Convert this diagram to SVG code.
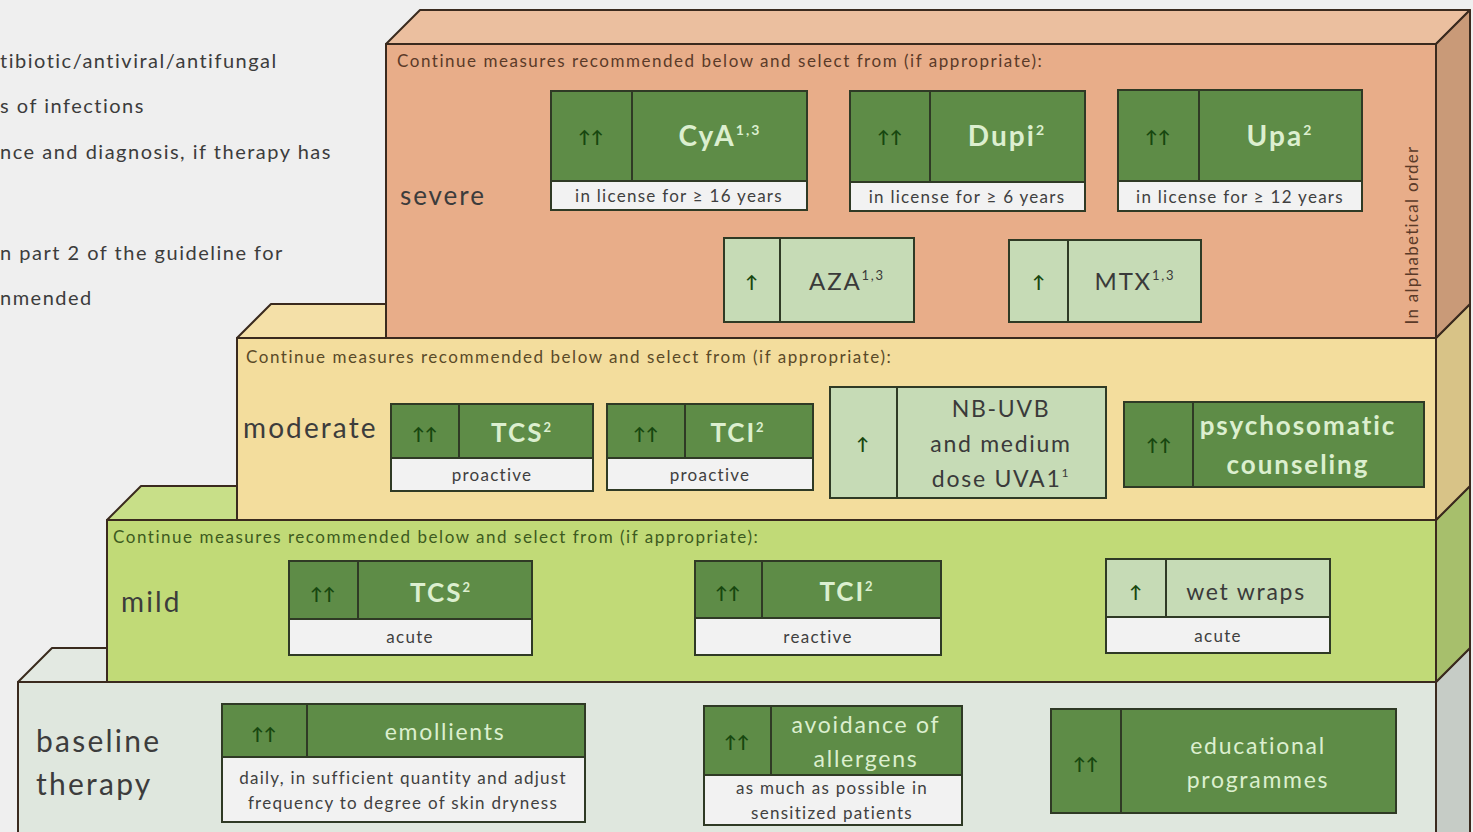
<svg xmlns="http://www.w3.org/2000/svg" width="1473" height="832" viewBox="0 0 1473 832">
<style>
text{font-family:Lato,"Open Sans","Liberation Sans",sans-serif;letter-spacing:0.075em}
.edge{stroke:#3a2a1e;stroke-width:2;stroke-linejoin:round}
.box{stroke:#2f3a25;stroke-width:2}
.dg{fill:#5e8c47}
.lg{fill:#c6dbb6}
.wh{fill:#f2f2f2}
.arr{fill:#17470f;font-size:17px;text-anchor:middle;font-weight:bold;letter-spacing:0}
.t1{fill:#dcefcf;font-weight:bold;text-anchor:middle}
.t2{fill:#dcefcf;text-anchor:middle}
.td{fill:#3a3a3a;text-anchor:middle}
.lab{fill:#404040;font-size:17px;text-anchor:middle}
.hdr{font-size:17px;letter-spacing:0.09em}
.side{fill:#3c3c3c;font-size:20px}
.lvl{fill:#3c3c3c}
</style>
<rect width="1473" height="832" fill="#efefef"/>
<g id="sidetext" class="side">
<text x="0" y="68">tibiotic/antiviral/antifungal</text>
<text x="0" y="113">s of infections</text>
<text x="0" y="159">nce and diagnosis, if therapy has</text>
<text x="0" y="260">n part 2 of the guideline for</text>
<text x="0" y="305">nmended</text>
</g>
<g id="baseline">
<polygon class="edge" points="18,682 52,648 1470,648 1436,682" fill="#e3e9e2"/>
<polygon class="edge" points="1436,682 1470,648 1470,840 1436,840" fill="#c6ccc6"/>
<rect class="edge" x="18" y="682" width="1418" height="160" fill="#dfe7de"/>
<text class="lvl" x="36" y="752" font-size="30">baseline</text>
<text class="lvl" x="36" y="795" font-size="30">therapy</text>
</g>
<g id="mild">
<polygon class="edge" points="107,520 141,486 1470,486 1436,520" fill="#c8df88"/>
<polygon class="edge" points="1436,520 1470,486 1470,648 1436,682" fill="#a7bf6c"/>
<rect class="edge" x="107" y="520" width="1329" height="162" fill="#c1da77"/>
<text class="hdr" x="113" y="543" fill="#3d5a20">Continue measures recommended below and select from (if appropriate):</text>
<text class="lvl" x="121" y="612" font-size="28">mild</text>
</g>
<g id="moderate">
<polygon class="edge" points="237,338 271,304 1470,304 1436,338" fill="#f4e0a8"/>
<polygon class="edge" points="1436,338 1470,304 1470,486 1436,520" fill="#d8c387"/>
<rect class="edge" x="237" y="338" width="1199" height="182" fill="#f3dd9d"/>
<text class="hdr" x="246" y="363" fill="#5a4a28">Continue measures recommended below and select from (if appropriate):</text>
<text class="lvl" x="243" y="438" font-size="28">moderate</text>
</g>
<g id="severe">
<polygon class="edge" points="386,44 420,10 1470,10 1436,44" fill="#ebbf9f"/>
<polygon class="edge" points="1436,44 1470,10 1470,304 1436,338" fill="#c99a78"/>
<rect class="edge" x="386" y="44" width="1050" height="294" fill="#e8ad89"/>
<text class="hdr" x="397" y="67" fill="#5a3a28">Continue measures recommended below and select from (if appropriate):</text>
<text class="lvl" x="400" y="205" font-size="26" fill="#5a4a40">severe</text>
<text x="1418" y="235" font-size="17" fill="#5a3a28" text-anchor="middle" transform="rotate(-90 1418 235)">In alphabetical order</text>
</g>
<g id="cya">
<rect class="box dg" x="551" y="91" width="256" height="90"/>
<line class="box" x1="632" y1="91" x2="632" y2="181"/>
<rect class="box wh" x="551" y="181" width="256" height="29"/>
<text class="arr" x="591" y="143">↑↑</text>
<text class="t1" x="720" y="146" font-size="28" letter-spacing="0.03em">CyA<tspan font-size="14" dy="-11">1,3</tspan></text>
<text class="lab" x="679" y="202">in license for ≥ 16 years</text>
</g>
<g id="dupi">
<rect class="box dg" x="850" y="91" width="235" height="91"/>
<line class="box" x1="930" y1="91" x2="930" y2="182"/>
<rect class="box wh" x="850" y="182" width="235" height="29"/>
<text class="arr" x="890" y="143">↑↑</text>
<text class="t1" x="1007" y="146" font-size="28" letter-spacing="0.03em">Dupi<tspan font-size="14" dy="-11">2</tspan></text>
<text class="lab" x="967" y="203">in license for ≥ 6 years</text>
</g>
<g id="upa">
<rect class="box dg" x="1118" y="90" width="244" height="91"/>
<line class="box" x1="1199" y1="90" x2="1199" y2="181"/>
<rect class="box wh" x="1118" y="181" width="244" height="30"/>
<text class="arr" x="1158" y="143">↑↑</text>
<text class="t1" x="1280" y="146" font-size="28" letter-spacing="0.03em">Upa<tspan font-size="14" dy="-11">2</tspan></text>
<text class="lab" x="1240" y="203">in license for ≥ 12 years</text>
</g>
<g id="aza">
<rect class="box lg" x="724" y="238" width="190" height="84"/>
<line class="box" x1="780" y1="238" x2="780" y2="322"/>
<text class="arr" x="752" y="288">↑</text>
<text class="td" x="847" y="290" font-size="24" letter-spacing="0.03em">AZA<tspan font-size="13" dy="-10">1,3</tspan></text>
</g>
<g id="mtx">
<rect class="box lg" x="1009" y="240" width="192" height="82"/>
<line class="box" x1="1068" y1="240" x2="1068" y2="322"/>
<text class="arr" x="1039" y="288">↑</text>
<text class="td" x="1135" y="290" font-size="24" letter-spacing="0.03em">MTX<tspan font-size="13" dy="-10">1,3</tspan></text>
</g>
<g id="tcs-mod">
<rect class="box dg" x="391" y="404" width="202" height="54"/>
<line class="box" x1="459" y1="404" x2="459" y2="458"/>
<rect class="box wh" x="391" y="458" width="202" height="33"/>
<text class="arr" x="425" y="440">↑↑</text>
<text class="t1" x="522" y="442" font-size="26" letter-spacing="0.03em">TCS<tspan font-size="13" dy="-10">2</tspan></text>
<text class="lab" x="492" y="481">proactive</text>
</g>
<g id="tci-mod">
<rect class="box dg" x="607" y="404" width="206" height="54"/>
<line class="box" x1="685" y1="404" x2="685" y2="458"/>
<rect class="box wh" x="607" y="458" width="206" height="32"/>
<text class="arr" x="646" y="440">↑↑</text>
<text class="t1" x="738" y="442" font-size="26" letter-spacing="0.03em">TCI<tspan font-size="13" dy="-10">2</tspan></text>
<text class="lab" x="710" y="481">proactive</text>
</g>
<g id="uv">
<rect class="box lg" x="830" y="387" width="276" height="111"/>
<line class="box" x1="897" y1="387" x2="897" y2="498"/>
<text class="arr" x="863" y="450">↑</text>
<text class="td" x="1001" y="417" font-size="23">NB-UVB</text>
<text class="td" x="1001" y="452" font-size="23">and medium</text>
<text class="td" x="1001" y="487" font-size="23">dose UVA1<tspan font-size="12" dy="-10">1</tspan></text>
</g>
<g id="psycho">
<rect class="box dg" x="1124" y="402" width="300" height="85"/>
<line class="box" x1="1193" y1="402" x2="1193" y2="487"/>
<text class="arr" x="1159" y="451">↑↑</text>
<text class="t1" x="1298" y="435" font-size="26">psychosomatic</text>
<text class="t1" x="1298" y="474" font-size="26">counseling</text>
</g>
<g id="tcs-mild">
<rect class="box dg" x="289" y="561" width="243" height="58"/>
<line class="box" x1="358" y1="561" x2="358" y2="619"/>
<rect class="box wh" x="289" y="619" width="243" height="36"/>
<text class="arr" x="323" y="600">↑↑</text>
<text class="t1" x="441" y="602" font-size="26" letter-spacing="0.03em">TCS<tspan font-size="13" dy="-10">2</tspan></text>
<text class="lab" x="410" y="643">acute</text>
</g>
<g id="tci-mild">
<rect class="box dg" x="695" y="561" width="246" height="57"/>
<line class="box" x1="762" y1="561" x2="762" y2="618"/>
<rect class="box wh" x="695" y="618" width="246" height="37"/>
<text class="arr" x="728" y="599">↑↑</text>
<text class="t1" x="847" y="601" font-size="26" letter-spacing="0.03em">TCI<tspan font-size="13" dy="-10">2</tspan></text>
<text class="lab" x="818" y="643">reactive</text>
</g>
<g id="wetwraps">
<rect class="box lg" x="1106" y="559" width="224" height="58"/>
<line class="box" x1="1166" y1="559" x2="1166" y2="617"/>
<rect class="box wh" x="1106" y="617" width="224" height="36"/>
<text class="arr" x="1136" y="598">↑</text>
<text class="td" x="1246" y="600" font-size="23">wet wraps</text>
<text class="lab" x="1218" y="642">acute</text>
</g>
<g id="emollients">
<rect class="box dg" x="222" y="704" width="363" height="53"/>
<line class="box" x1="307" y1="704" x2="307" y2="757"/>
<rect class="box wh" x="222" y="757" width="363" height="65"/>
<text class="arr" x="264" y="740">↑↑</text>
<text class="t2" x="445" y="740" font-size="23">emollients</text>
<text class="lab" x="403" y="784" letter-spacing="0.02em">daily, in sufficient quantity and adjust</text>
<text class="lab" x="403" y="809" letter-spacing="0.02em">frequency to degree of skin dryness</text>
</g>
<g id="avoidance">
<rect class="box dg" x="704" y="706" width="258" height="69"/>
<line class="box" x1="771" y1="706" x2="771" y2="775"/>
<rect class="box wh" x="704" y="775" width="258" height="50"/>
<text class="arr" x="737" y="748">↑↑</text>
<text class="t2" x="866" y="733" font-size="23">avoidance of</text>
<text class="t2" x="866" y="767" font-size="23">allergens</text>
<text class="lab" x="832" y="794" letter-spacing="0.02em">as much as possible in</text>
<text class="lab" x="832" y="819" letter-spacing="0.02em">sensitized patients</text>
</g>
<g id="educational">
<rect class="box dg" x="1051" y="709" width="345" height="104"/>
<line class="box" x1="1121" y1="709" x2="1121" y2="813"/>
<text class="arr" x="1086" y="770">↑↑</text>
<text class="t2" x="1258" y="754" font-size="23">educational</text>
<text class="t2" x="1258" y="788" font-size="23">programmes</text>
</g>
<g id="connectors"></g>
</svg>
